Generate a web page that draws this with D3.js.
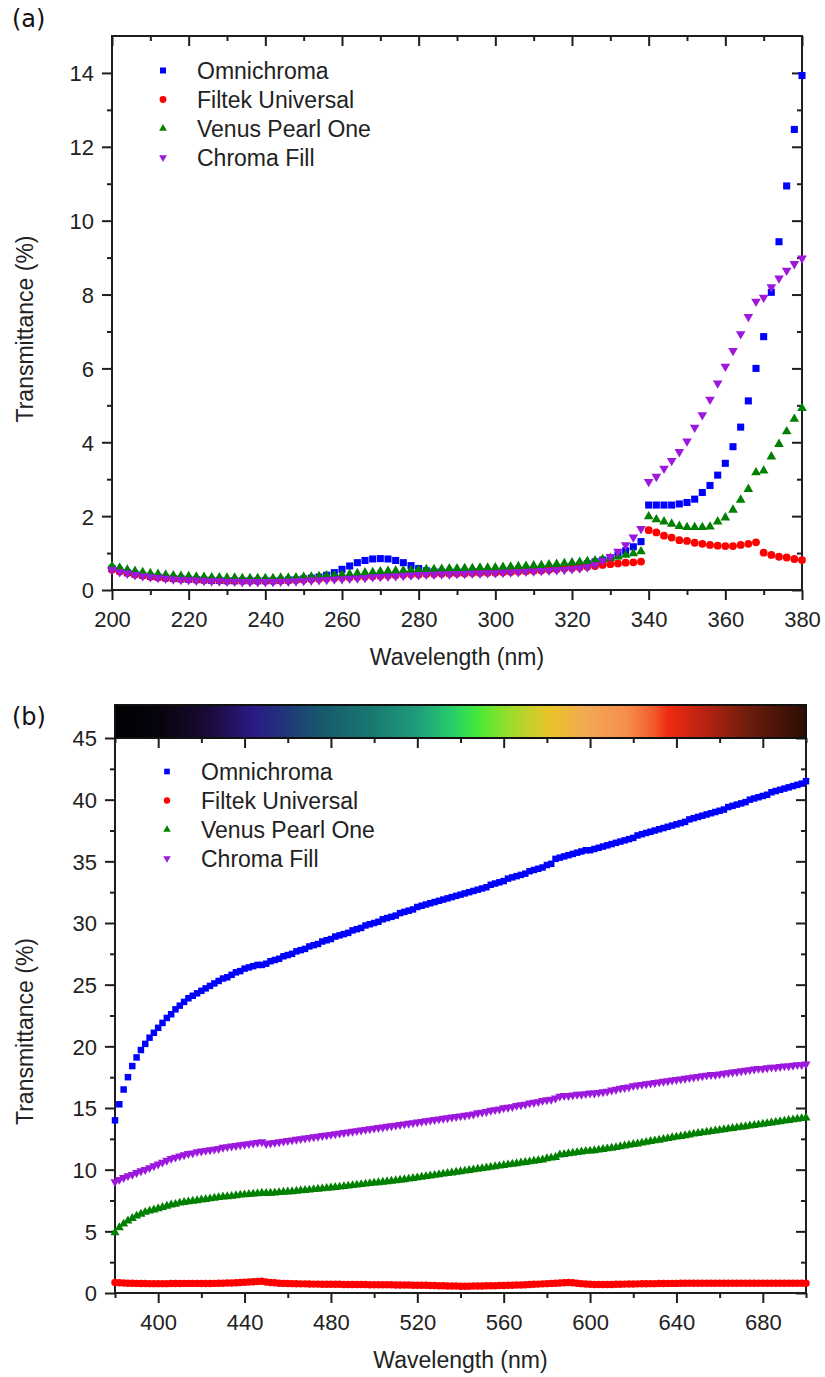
<!DOCTYPE html>
<html><head><meta charset="utf-8">
<script src="https://cdn.jsdelivr.net/npm/d3@7"></script>
<style>body{margin:0;background:#fff}svg{display:block}</style>
</head><body>
<svg id="chart" width="825" height="1377"></svg>
<script>
// ---------- data ----------
const seriesNames = ["Omnichroma", "Filtek Universal", "Venus Pearl One", "Chroma Fill"];
const seriesColors = ["#0000ff", "#ff0000", "#008000", "#9c18dc"];
const seriesSymbols = ["square", "circle", "up", "down"];

// panel (a): 200–380 nm, every 2 nm
const uvWavelengths = d3.range(200, 381, 2);
const uvOmnichroma = [
  0.58,0.52,0.47,0.43,0.40,0.37,0.35,0.33,0.31,0.30,
  0.29,0.28,0.27,0.26,0.26,0.25,0.25,0.25,0.25,0.25,
  0.25,0.25,0.26,0.27,0.28,0.30,0.32,0.35,0.40,0.47,
  0.56,0.65,0.74,0.80,0.84,0.85,0.84,0.80,0.74,0.66,
  0.58,0.52,0.49,0.48,0.48,0.48,0.48,0.49,0.49,0.50,
  0.50,0.51,0.52,0.53,0.54,0.55,0.57,0.58,0.60,0.62,
  0.64,0.67,0.71,0.76,0.81,0.87,0.95,1.06,1.17,1.31,
  2.30,2.30,2.30,2.30,2.33,2.37,2.46,2.64,2.83,3.11,
  3.43,3.88,4.41,5.12,6.00,6.86,8.06,9.43,10.94,12.47,
  13.93];
const uvFiltek = [
  0.55,0.50,0.46,0.42,0.39,0.36,0.34,0.32,0.31,0.30,
  0.29,0.28,0.27,0.27,0.26,0.26,0.25,0.25,0.25,0.25,
  0.25,0.25,0.26,0.26,0.27,0.28,0.29,0.30,0.31,0.32,
  0.33,0.34,0.35,0.36,0.37,0.38,0.39,0.40,0.41,0.42,
  0.42,0.43,0.43,0.44,0.44,0.45,0.45,0.46,0.46,0.47,
  0.47,0.48,0.49,0.50,0.51,0.52,0.53,0.55,0.56,0.58,
  0.59,0.61,0.63,0.65,0.68,0.70,0.72,0.74,0.75,0.77,
  1.62,1.56,1.47,1.42,1.35,1.33,1.28,1.25,1.22,1.20,
  1.19,1.19,1.22,1.25,1.29,1.01,0.95,0.90,0.88,0.84,
  0.81];
const uvVenus = [
  0.65,0.60,0.55,0.51,0.48,0.45,0.43,0.41,0.39,0.38,
  0.37,0.36,0.35,0.34,0.34,0.33,0.33,0.32,0.32,0.32,
  0.32,0.32,0.33,0.33,0.34,0.35,0.36,0.37,0.39,0.40,
  0.42,0.43,0.45,0.47,0.48,0.50,0.51,0.52,0.53,0.54,
  0.55,0.56,0.56,0.57,0.58,0.58,0.59,0.59,0.60,0.60,
  0.61,0.62,0.63,0.64,0.65,0.66,0.67,0.69,0.70,0.72,
  0.74,0.76,0.78,0.80,0.83,0.86,0.90,0.95,0.99,1.04,
  1.99,1.91,1.85,1.79,1.73,1.70,1.70,1.70,1.71,1.85,
  1.96,2.17,2.44,2.73,3.18,3.23,3.61,3.95,4.29,4.63,
  4.92];
const uvChroma = [
  0.55,0.49,0.45,0.41,0.38,0.35,0.33,0.31,0.29,0.28,
  0.27,0.26,0.25,0.24,0.24,0.23,0.23,0.22,0.22,0.22,
  0.22,0.22,0.23,0.23,0.24,0.25,0.26,0.27,0.28,0.29,
  0.30,0.31,0.32,0.33,0.35,0.36,0.37,0.38,0.39,0.40,
  0.41,0.42,0.42,0.43,0.43,0.44,0.44,0.45,0.45,0.46,
  0.46,0.47,0.48,0.49,0.50,0.51,0.52,0.53,0.54,0.55,
  0.57,0.59,0.62,0.68,0.79,0.90,1.04,1.22,1.43,1.66,
  2.93,3.07,3.29,3.50,3.74,4.03,4.40,4.74,5.16,5.60,
  6.05,6.48,6.93,7.40,7.81,7.92,8.20,8.44,8.65,8.83,
  8.98];

// panel (b): 380–700 nm, every 2 nm
const visWavelengths = d3.range(380, 701, 2);
const visOmnichroma = [
  14.0,15.3,16.5,17.5,18.4,19.1,19.7,20.2,20.7,21.1,
  21.5,21.9,22.3,22.6,23.0,23.3,23.6,23.9,24.1,24.3,
  24.5,24.7,24.9,25.1,25.3,25.5,25.6,25.8,26.0,26.1,
  26.3,26.4,26.5,26.6,26.6,26.7,26.9,27.0,27.1,27.3,
  27.4,27.5,27.7,27.8,27.9,28.1,28.2,28.3,28.5,28.6,
  28.7,28.9,29.0,29.1,29.2,29.4,29.5,29.6,29.8,29.9,
  30.0,30.1,30.3,30.4,30.5,30.6,30.8,30.9,31.0,31.1,
  31.3,31.4,31.5,31.6,31.7,31.8,31.9,32.0,32.1,32.2,
  32.3,32.4,32.5,32.6,32.7,32.8,32.9,33.1,33.2,33.3,
  33.4,33.6,33.7,33.8,33.9,34.0,34.2,34.3,34.4,34.5,
  34.7,34.8,35.2,35.3,35.4,35.5,35.6,35.7,35.8,35.9,
  35.9,36.0,36.1,36.2,36.3,36.4,36.5,36.6,36.7,36.8,
  36.9,37.1,37.2,37.3,37.4,37.5,37.6,37.7,37.8,37.9,
  38.0,38.1,38.2,38.4,38.5,38.6,38.7,38.8,38.9,39.0,
  39.1,39.2,39.4,39.5,39.6,39.7,39.8,40.0,40.1,40.2,
  40.3,40.4,40.6,40.7,40.8,40.9,41.0,41.1,41.2,41.3,
  41.5];
const visFiltek = [
  0.85,0.83,0.82,0.80,0.79,0.78,0.77,0.77,0.76,0.76,
  0.76,0.76,0.76,0.77,0.77,0.77,0.78,0.78,0.78,0.78,
  0.77,0.77,0.77,0.78,0.79,0.80,0.81,0.82,0.83,0.85,
  0.87,0.89,0.91,0.93,0.95,0.90,0.86,0.83,0.80,0.78,
  0.77,0.76,0.75,0.74,0.74,0.73,0.72,0.72,0.71,0.71,
  0.70,0.70,0.70,0.69,0.69,0.69,0.68,0.68,0.68,0.67,
  0.67,0.67,0.66,0.66,0.66,0.65,0.65,0.64,0.64,0.63,
  0.63,0.62,0.62,0.61,0.60,0.59,0.58,0.57,0.56,0.56,
  0.55,0.55,0.55,0.56,0.56,0.57,0.58,0.58,0.59,0.60,
  0.61,0.62,0.63,0.64,0.65,0.66,0.68,0.70,0.72,0.74,
  0.76,0.78,0.80,0.82,0.84,0.85,0.84,0.80,0.76,0.73,
  0.70,0.68,0.68,0.68,0.69,0.69,0.70,0.71,0.72,0.73,
  0.73,0.74,0.75,0.75,0.76,0.76,0.77,0.77,0.78,0.78,
  0.78,0.79,0.79,0.79,0.80,0.80,0.80,0.80,0.80,0.80,
  0.80,0.80,0.80,0.80,0.80,0.80,0.80,0.80,0.80,0.80,
  0.80,0.80,0.80,0.80,0.80,0.80,0.80,0.80,0.80,0.80,
  0.80];
const visVenus = [
  4.9,5.3,5.6,5.85,6.05,6.25,6.4,6.55,6.65,6.75,
  6.85,6.95,7.05,7.15,7.2,7.3,7.35,7.4,7.45,7.5,
  7.55,7.6,7.65,7.7,7.75,7.8,7.82,7.85,7.9,7.95,
  7.97,8.0,8.03,8.06,8.1,8.08,8.1,8.12,8.15,8.18,
  8.2,8.23,8.26,8.3,8.33,8.36,8.4,8.43,8.46,8.5,
  8.53,8.57,8.6,8.64,8.68,8.72,8.76,8.8,8.84,8.88,
  8.92,8.96,9.0,9.04,9.08,9.12,9.16,9.2,9.25,9.3,
  9.35,9.4,9.45,9.5,9.55,9.6,9.65,9.7,9.75,9.8,
  9.85,9.9,9.95,10.0,10.05,10.1,10.15,10.2,10.25,10.3,
  10.35,10.4,10.45,10.5,10.55,10.6,10.65,10.7,10.75,10.8,
  10.9,10.95,11.0,11.2,11.25,11.3,11.35,11.4,11.45,11.5,
  11.52,11.55,11.6,11.65,11.7,11.75,11.8,11.87,11.93,12.0,
  12.05,12.1,12.17,12.23,12.3,12.35,12.4,12.47,12.53,12.6,
  12.65,12.7,12.77,12.83,12.9,12.95,13.0,13.05,13.1,13.15,
  13.2,13.25,13.3,13.35,13.4,13.45,13.5,13.55,13.6,13.65,
  13.7,13.75,13.8,13.85,13.9,13.95,14.0,14.05,14.1,14.15,
  14.2];
const visChroma = [
  9.0,9.2,9.35,9.5,9.6,9.75,9.9,10.0,10.15,10.3,
  10.45,10.6,10.75,10.9,11.0,11.1,11.2,11.3,11.35,11.45,
  11.5,11.55,11.6,11.65,11.7,11.8,11.85,11.9,11.95,12.0,
  12.05,12.1,12.15,12.2,12.25,12.1,12.15,12.2,12.25,12.3,
  12.35,12.4,12.45,12.5,12.55,12.6,12.65,12.7,12.75,12.8,
  12.85,12.9,12.95,13.0,13.05,13.1,13.15,13.2,13.25,13.3,
  13.35,13.4,13.45,13.5,13.55,13.6,13.65,13.7,13.75,13.8,
  13.85,13.9,13.95,14.0,14.05,14.1,14.15,14.2,14.25,14.3,
  14.35,14.4,14.45,14.5,14.6,14.65,14.7,14.8,14.85,14.9,
  15.0,15.05,15.1,15.2,15.25,15.3,15.4,15.45,15.5,15.6,
  15.65,15.7,15.8,15.95,16.0,16.0,16.05,16.1,16.1,16.15,
  16.2,16.2,16.25,16.3,16.35,16.45,16.5,16.6,16.65,16.7,
  16.8,16.85,16.9,16.95,17.0,17.05,17.1,17.15,17.2,17.25,
  17.3,17.35,17.4,17.45,17.5,17.55,17.6,17.65,17.7,17.7,
  17.75,17.8,17.85,17.9,17.95,18.0,18.05,18.1,18.15,18.2,
  18.2,18.25,18.3,18.3,18.35,18.4,18.4,18.45,18.5,18.5,
  18.55];

// ticks
const uvXTicks = [200,220,240,260,280,300,320,340,360,380];
const uvXMinor = [210,230,250,270,290,310,330,350,370];
const uvYTicks = [0,2,4,6,8,10,12,14];
const uvYMinor = [1,3,5,7,9,11,13];
const visXTicks = [400,440,480,520,560,600,640,680];
const visXMinor = [380,420,460,500,540,580,620,660,700];
const visYTicks = [0,5,10,15,20,25,30,35,40,45];
const visYMinor = [2.5,7.5,12.5,17.5,22.5,27.5,32.5,37.5,42.5];

// visible-spectrum colour bar
const barOffsets = [0,0.07,0.14,0.2,0.25,0.3,0.37,0.44,0.49,0.525,0.56,0.6,0.63,0.68,0.74,0.78,0.8,0.86,0.92,1];
const barColors = ["#000003","#08040e","#1c0b3c","#2b1a86","#1f3878","#165a6c","#177870","#1f9e7c","#27d06a","#45ea38","#88e02c","#c6d02c","#eac328","#f2aa52","#f68e4c","#f25a2c","#f02a12","#b02212","#6a1c0c","#2a0c04"];

// ---------- drawing ----------
const svg = d3.select("#chart");
const AX = "#1e1e1e";
const SANS = "'Liberation Sans', Arial, sans-serif";

function symbolPath(kind, size) {
  const t = kind === "square" ? d3.symbolSquare : kind === "circle" ? d3.symbolCircle : d3.symbolTriangle;
  return d3.symbol().type(t).size(size)();
}

function drawPanel(p) {
  const x = d3.scaleLinear().domain(p.xDomain).range([p.left, p.right]);
  const y = d3.scaleLinear().domain(p.yDomain).range([p.bottom, p.top]);
  const g = svg.append("g");

  const style = sel => {
    sel.select(".domain").remove();
    sel.selectAll("line").attr("stroke", AX).attr("stroke-width", 2);
    sel.selectAll("text").attr("fill", "#222").attr("font-family", SANS).attr("font-size", 22);
  };
  // bottom
  g.append("g").attr("transform", `translate(0,${p.bottom})`)
    .call(d3.axisBottom(x).tickValues(p.xMinor).tickSize(5).tickFormat("")).call(style);
  g.append("g").attr("transform", `translate(0,${p.bottom})`)
    .call(d3.axisBottom(x).tickValues(p.xTicks).tickSize(10).tickFormat(d3.format("d"))).call(style)
    .selectAll("text").attr("dy", null).attr("y", 37);
  // top (inward)
  g.append("g").attr("transform", `translate(0,${p.top})`)
    .call(d3.axisTop(x).tickValues(p.xMinor).tickSize(-5).tickFormat("")).call(style);
  g.append("g").attr("transform", `translate(0,${p.top})`)
    .call(d3.axisTop(x).tickValues(p.xTicks).tickSize(-10).tickFormat("")).call(style);
  // left
  g.append("g").attr("transform", `translate(${p.left},0)`)
    .call(d3.axisLeft(y).tickValues(p.yMinor).tickSize(5).tickFormat("")).call(style);
  g.append("g").attr("transform", `translate(${p.left},0)`)
    .call(d3.axisLeft(y).tickValues(p.yTicks).tickSize(10).tickFormat(d3.format("d"))).call(style)
    .selectAll("text").attr("x", -18).attr("dy", "0.36em");
  // right (inward)
  g.append("g").attr("transform", `translate(${p.right},0)`)
    .call(d3.axisRight(y).tickValues(p.yMinor).tickSize(-5).tickFormat("")).call(style);
  g.append("g").attr("transform", `translate(${p.right},0)`)
    .call(d3.axisRight(y).tickValues(p.yTicks).tickSize(-10).tickFormat("")).call(style);

  // frame
  g.append("rect").attr("x", p.left).attr("y", p.top)
    .attr("width", p.right - p.left).attr("height", p.bottom - p.top)
    .attr("fill", "none").attr("stroke", AX).attr("stroke-width", 2);

  // points
  p.series.forEach((vals, si) => {
    const kind = seriesSymbols[si];
    const path = symbolPath(kind, p.sizes[si]);
    g.append("g").selectAll("path").data(vals).join("path")
      .attr("d", path)
      .attr("fill", seriesColors[si])
      .attr("transform", (v, i) => `translate(${x(p.wl[i])},${y(v)})${kind === "down" ? " rotate(180)" : ""}`);
  });

  // legend
  seriesNames.forEach((name, si) => {
    const by = p.legendY + si * p.legendStep;
    const kind = seriesSymbols[si];
    g.append("path").attr("d", symbolPath(kind, p.legendSizes[si]))
      .attr("fill", seriesColors[si])
      .attr("transform", `translate(${p.legendX},${by - 8.5})${kind === "down" ? " rotate(180)" : ""}`);
    g.append("text").attr("x", p.legendX + 34).attr("y", by)
      .attr("font-family", SANS).attr("font-size", 23).attr("fill", "#222").text(name);
  });

  // axis titles
  g.append("text").attr("x", (p.left + p.right) / 2).attr("y", p.bottom + 75)
    .attr("text-anchor", "middle").attr("font-family", SANS).attr("font-size", 23).attr("fill", "#222")
    .text("Wavelength (nm)");
  g.append("text").attr("transform", `translate(33,${(p.top + p.bottom) / 2 + 16}) rotate(-90)`)
    .attr("text-anchor", "middle").attr("font-family", SANS).attr("font-size", 23).attr("fill", "#222")
    .text("Transmittance (%)");

  // panel letter
  svg.append("text").attr("x", 12).attr("y", p.labelY)
    .attr("font-family", "'DejaVu Sans', sans-serif").attr("font-size", 24).attr("fill", "#111")
    .text(p.label);
  return {x, y};
}

drawPanel({
  label: "(a)", labelY: 27,
  left: 112, right: 802, top: 36, bottom: 590,
  xDomain: [200, 380], yDomain: [0, 15],
  xTicks: uvXTicks, xMinor: uvXMinor, yTicks: uvYTicks, yMinor: uvYMinor,
  wl: uvWavelengths, series: [uvOmnichroma, uvFiltek, uvVenus, uvChroma],
  sizes: [50, 48, 40, 40],
  legendX: 163, legendY: 79, legendStep: 29, legendSizes: [36, 36, 26, 26]
});

drawPanel({
  label: "(b)", labelY: 725,
  left: 115, right: 806, top: 738, bottom: 1293,
  xDomain: [380, 700], yDomain: [0, 45],
  xTicks: visXTicks, xMinor: visXMinor, yTicks: visYTicks, yMinor: visYMinor,
  wl: visWavelengths, series: [visOmnichroma, visFiltek, visVenus, visChroma],
  sizes: [42, 44, 36, 36],
  legendX: 167, legendY: 780, legendStep: 29, legendSizes: [32, 32, 24, 24]
});

// colour bar above panel (b)
const defs = svg.append("defs");
const grad = defs.append("linearGradient").attr("id", "spectrum").attr("x1", "0%").attr("x2", "100%");
grad.selectAll("stop").data(barOffsets).join("stop")
  .attr("offset", d => d).attr("stop-color", (d, i) => barColors[i]);
svg.append("rect").attr("x", 115).attr("y", 705).attr("width", 691).attr("height", 33)
  .attr("fill", "url(#spectrum)").attr("stroke", "#111").attr("stroke-width", 2);
</script>
</body></html>
